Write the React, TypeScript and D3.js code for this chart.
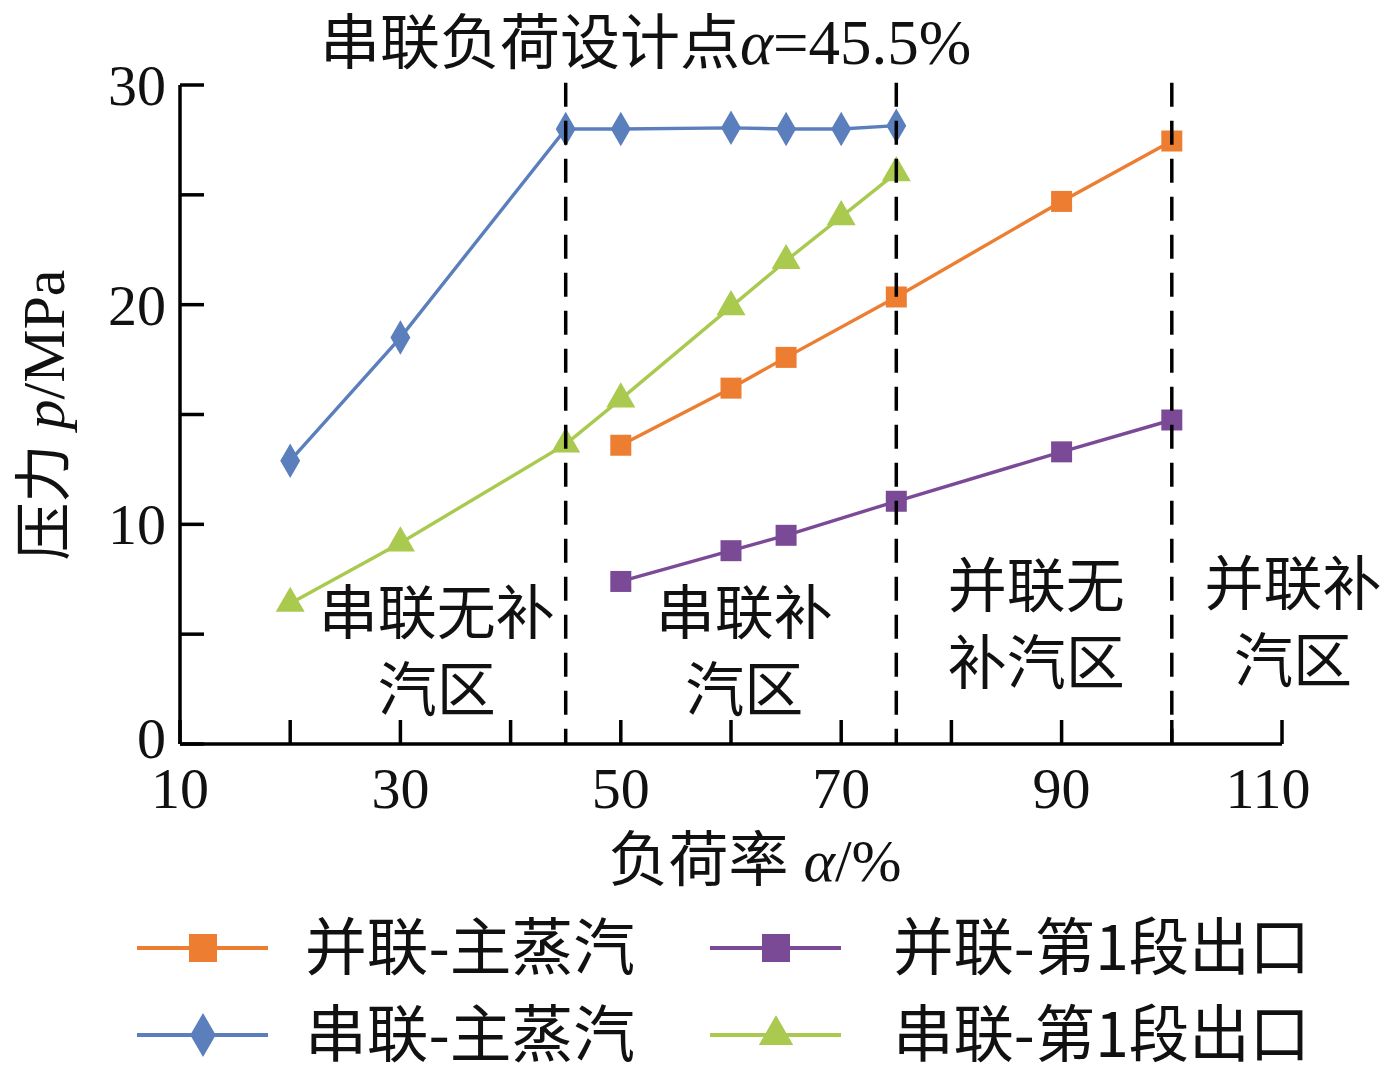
import React from "react";
import * as d3 from "d3";

const seriesLoadX = [20, 30, 45, 50, 60, 65, 70, 75];
const seriesMainSteam = [12.9, 18.5, 28.0, 28.0, 28.05, 28.0, 28.0, 28.15];
const seriesStage1 = [6.4, 9.15, 13.65, 15.7, 19.9, 22.0, 24.0, 26.0];
const parallelLoadX = [50, 60, 65, 75, 90, 100];
const parallelMainSteam = [13.6, 16.2, 17.6, 20.35, 24.7, 27.45];
const parallelStage1 = [7.4, 8.8, 9.5, 11.05, 13.3, 14.75];
const boundaries = [45, 75, 100];
const xTickValues = [10, 20, 30, 40, 50, 60, 70, 80, 90, 100, 110];
const xTickLabels = [10, 30, 50, 70, 90, 110];
const yTickValues = [0, 5, 10, 15, 20, 25, 30];
const yTickLabels = [0, 10, 20, 30];
const regionLabels = [
  { x: 33.3, lines: ["串联无补", "汽区"], top: 6.2 },
  { x: 61.2, lines: ["串联补", "汽区"], top: 6.2 },
  { x: 87.7, lines: ["并联无", "补汽区"], top: 7.4 },
  { x: 111.0, lines: ["并联补", "汽区"], top: 7.5 },
];

const ORANGE = "#ED7D31";
const BLUE = "#5B7EBD";
const GREEN = "#A9C94F";
const PURPLE = "#7B4A97";

const SERIF = "'Liberation Serif', 'Times New Roman', 'Noto Sans CJK SC', serif";
const CJK = "'Noto Sans CJK SC', 'Liberation Serif', sans-serif";

const x = d3.scaleLinear().domain([10, 110]).range([180, 1282]);
const y = d3.scaleLinear().domain([0, 30]).range([744, 85]);

type MarkerKind = "square" | "diamond" | "triangle";

function Marker({ kind, cx, cy, size, color }: { kind: MarkerKind; cx: number; cy: number; size: number; color: string }) {
  const symType = kind === "square" ? d3.symbolSquare : kind === "diamond" ? d3.symbolDiamond : d3.symbolTriangle;
  const area = kind === "square" ? size * size : kind === "diamond" ? size * size * 0.55 : size * size * 0.5;
  const p = d3.symbol().type(symType).size(area)() || "";
  return <path d={p} transform={`translate(${cx},${cy})`} fill={color} />;
}

function Series({ xs, ys, color, kind, size }: { xs: number[]; ys: number[]; color: string; kind: MarkerKind; size: number }) {
  const pts: [number, number][] = xs.map((v, i) => [x(v), y(ys[i])]);
  const line = d3.line()(pts) || "";
  return (
    <g>
      <path d={line} fill="none" stroke={color} strokeWidth={3.4} />
      {pts.map((p, i) => (
        <Marker key={i} kind={kind} cx={p[0]} cy={p[1]} size={size} color={color} />
      ))}
    </g>
  );
}

export default function App() {
  const legendItems = [
    { label: "并联-主蒸汽", color: ORANGE, kind: "square" as MarkerKind, lx: 137, ly: 948, tx: 305, tw: 330 },
    { label: "并联-第1段出口", color: PURPLE, kind: "square" as MarkerKind, lx: 710, ly: 948, tx: 893, tw: 417 },
    { label: "串联-主蒸汽", color: BLUE, kind: "diamond" as MarkerKind, lx: 137, ly: 1035, tx: 305, tw: 330 },
    { label: "串联-第1段出口", color: GREEN, kind: "triangle" as MarkerKind, lx: 710, ly: 1035, tx: 893, tw: 417 },
  ];
  return (
    <svg width={1387} height={1074} style={{ position: "absolute", left: 0, top: 0, background: "#fff" }}>
      {/* title */}
      <text x={320} y={64} fontFamily={CJK} fontSize={60} fill="#111">
        串联负荷设计点
        <tspan fontFamily={SERIF} fontStyle="italic" fontSize={63}>α</tspan>
        <tspan fontFamily={SERIF} fontSize={63}>=45.5%</tspan>
      </text>

      {/* series */}
      <Series xs={seriesLoadX} ys={seriesMainSteam} color={BLUE} kind="diamond" size={25} />
      <Series xs={seriesLoadX} ys={seriesStage1} color={GREEN} kind="triangle" size={27} />
      <Series xs={parallelLoadX} ys={parallelMainSteam} color={ORANGE} kind="square" size={21} />
      <Series xs={parallelLoadX} ys={parallelStage1} color={PURPLE} kind="square" size={21} />

      {/* boundaries */}
      {boundaries.map((b) => (
        <line key={b} x1={x(b)} x2={x(b)} y1={y(30.1)} y2={y(0)} stroke="#000" strokeWidth={3.5} strokeDasharray="24 14" />
      ))}

      {/* axes */}
      <line x1={x(10)} x2={x(10)} y1={y(30)} y2={y(0)} stroke="#000" strokeWidth={3.5} />
      <line x1={x(10)} x2={x(110)} y1={y(0)} y2={y(0)} stroke="#000" strokeWidth={3.5} />
      {yTickValues.map((t) => (
        <line key={t} x1={x(10)} x2={x(10) + 24} y1={y(t)} y2={y(t)} stroke="#000" strokeWidth={3.5} />
      ))}
      {xTickValues.map((t) => (
        <line key={t} x1={x(t)} x2={x(t)} y1={y(0)} y2={y(0) - 24} stroke="#000" strokeWidth={3.5} />
      ))}
      {yTickLabels.map((t) => (
        <text key={t} x={x(10) - 14} y={y(t) + (t === 0 ? 14 : 20)} textAnchor="end" fontFamily={SERIF} fontSize={58} fill="#111">
          {t}
        </text>
      ))}
      {xTickLabels.map((t) => (
        <text key={t} x={x(t) - (t === 110 ? 14 : 0)} y={y(0) + 64} textAnchor="middle" fontFamily={SERIF} fontSize={58} fill="#111">
          {t}
        </text>
      ))}

      {/* axis titles */}
      <text x={755} y={881} textAnchor="middle" fontFamily={CJK} fontSize={60} fill="#111">
        负荷率
        <tspan fontFamily={SERIF} fontStyle="italic" fontSize={60}> α</tspan>
        <tspan fontFamily={SERIF} fontSize={60}>/%</tspan>
      </text>
      <text transform="translate(64,415) rotate(-90)" textAnchor="middle" fontFamily={CJK} fontSize={58} fill="#111">
        压力
        <tspan fontFamily={SERIF} fontStyle="italic" fontSize={60}> p</tspan>
        <tspan fontFamily={SERIF} fontSize={60}>/MPa</tspan>
      </text>

      {/* region labels */}
      {regionLabels.map((r, i) => (
        <text key={i} textAnchor="middle" fontFamily={CJK} fontSize={59} fill="#111">
          {r.lines.map((l, j) => (
            <tspan key={j} x={x(r.x)} y={y(r.top) + 26 + j * 77}>
              {l}
            </tspan>
          ))}
        </text>
      ))}

      {/* legend */}
      {legendItems.map((it, i) => (
        <g key={i}>
          <line x1={it.lx} x2={it.lx + 131} y1={it.ly} y2={it.ly} stroke={it.color} strokeWidth={4} />
          <Marker kind={it.kind} cx={it.lx + 66} cy={it.ly} size={it.kind === "square" ? 28 : 32} color={it.color} />
          <text x={it.tx} y={it.ly + 22} fontFamily={CJK} fontSize={62} fill="#111" textLength={it.tw} lengthAdjust="spacingAndGlyphs">
            {it.label}
          </text>
        </g>
      ))}
    </svg>
  );
}
